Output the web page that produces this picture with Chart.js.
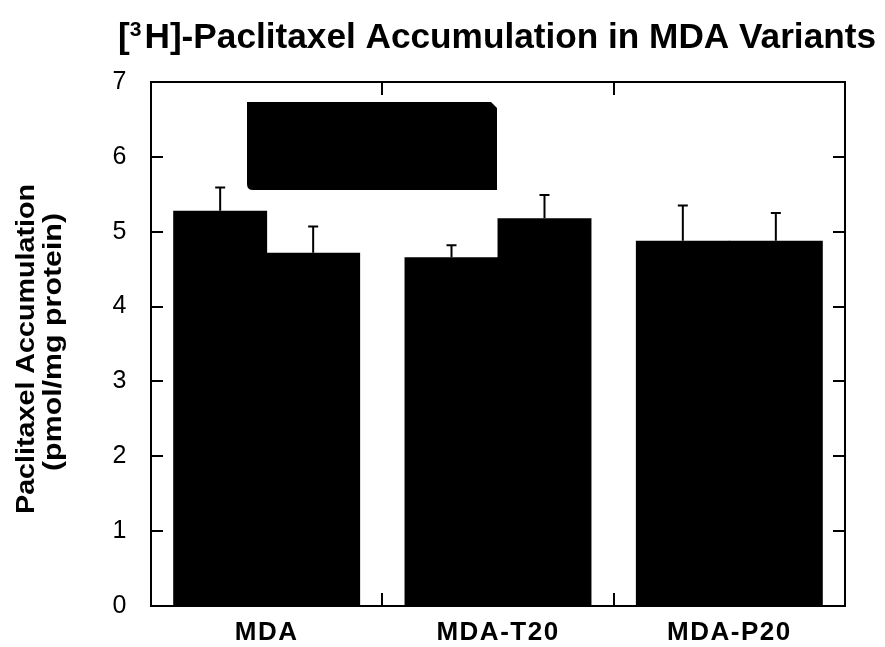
<!DOCTYPE html>
<html>
<head>
<meta charset="utf-8">
<script src="https://cdn.jsdelivr.net/npm/chart.js@4.4.1/dist/chart.umd.min.js"></script>
<style>
  html, body { margin: 0; padding: 0; background: #fff; }
  #wrap { width: 885px; height: 647px; position: relative; }
</style>
</head>
<body>
<div id="wrap"><canvas id="c"></canvas></div>
<script>
// ---- data ----
const categories = ['MDA', 'MDA-T20', 'MDA-P20'];
const seriesA = [5.28, 4.66, 4.88];
const seriesAErr = [0.31, 0.16, 0.47];
const seriesB = [4.72, 5.18, 4.88];
const seriesBErr = [0.35, 0.31, 0.37];
const yTicks = [0, 1, 2, 3, 4, 5, 6, 7];
const titleMain = 'H]-Paclitaxel Accumulation in MDA Variants';
const titleSup = '3';
const yTitle = ['Paclitaxel Accumulation', '(pmol/mg protein)'];

const FONT = "'Liberation Sans', Arial, Helvetica, sans-serif";

const errorBarPlugin = {
  id: 'errorBars',
  afterDatasetsDraw(chart) {
    const ctx = chart.ctx;
    const y = chart.scales.y;
    const errs = [seriesAErr, seriesBErr];
    ctx.save();
    ctx.strokeStyle = '#000';
    ctx.lineWidth = 2;
    chart.data.datasets.forEach((ds, i) => {
      const meta = chart.getDatasetMeta(i);
      meta.data.forEach((el, j) => {
        const top = y.getPixelForValue(ds.data[j] + errs[i][j]);
        ctx.beginPath();
        ctx.moveTo(el.x, el.y);
        ctx.lineTo(el.x, top);
        ctx.moveTo(el.x - 5, top);
        ctx.lineTo(el.x + 5, top);
        ctx.stroke();
      });
    });
    ctx.restore();
  }
};

const framePlugin = {
  id: 'frame',
  afterDraw(chart) {
    const ctx = chart.ctx;
    const a = chart.chartArea;
    const y = chart.scales.y;
    const x = chart.scales.x;
    ctx.save();
    ctx.letterSpacing = '0px';
    ctx.strokeStyle = '#000';
    ctx.lineWidth = 2;
    ctx.strokeRect(a.left, a.top, a.right - a.left, a.bottom - a.top);
    // inner y ticks on left and right
    ctx.beginPath();
    yTicks.forEach(v => {
      const py = Math.round(y.getPixelForValue(v));
      ctx.moveTo(a.left, py); ctx.lineTo(a.left + 12, py);
      ctx.moveTo(a.right, py); ctx.lineTo(a.right - 12, py);
    });
    // x ticks at category boundaries
    for (let i = 1; i < categories.length; i++) {
      const px = Math.round((x.getPixelForValue(i - 1) + x.getPixelForValue(i)) / 2);
      ctx.moveTo(px, a.bottom); ctx.lineTo(px, a.bottom - 13);
      ctx.moveTo(px, a.top); ctx.lineTo(px, a.top + 13);
    }
    ctx.stroke();

    // legend box (black, content unreadable in the original)
    const lx = a.left + 96, ly = a.top + 20, lw = 250, lh = 88, c = 6;
    ctx.fillStyle = '#000';
    ctx.beginPath();
    ctx.moveTo(lx, ly);
    ctx.lineTo(lx + lw - c, ly);
    ctx.lineTo(lx + lw, ly + c);
    ctx.lineTo(lx + lw, ly + lh);
    ctx.lineTo(lx + c, ly + lh);
    ctx.quadraticCurveTo(lx, ly + lh, lx, ly + lh - c);
    ctx.closePath();
    ctx.fill();

    // title with superscript
    ctx.fillStyle = '#000';
    ctx.textBaseline = 'alphabetic';
    ctx.textAlign = 'left';
    const tLeft = 118, tRight = 876, tBase = 48;
    const fMain = 'bold 35px ' + FONT;
    const fSup = 'bold 21px ' + FONT;
    ctx.font = fMain;
    const wBr = ctx.measureText('[').width;
    const wMain = ctx.measureText(titleMain).width;
    ctx.font = fSup;
    const wSup = ctx.measureText(titleSup).width + 3;
    const sx = (tRight - tLeft) / (wBr + wSup + wMain);
    ctx.save();
    ctx.translate(tLeft, tBase);
    ctx.scale(sx, 1);
    ctx.font = fMain;
    ctx.fillText('[', 0, 0);
    ctx.font = fSup;
    ctx.fillText(titleSup, wBr, -12);
    ctx.font = fMain;
    ctx.fillText(titleMain, wBr + wSup, 0);
    ctx.restore();

    // y axis title (rotated, two lines)
    const lines = [
      { text: yTitle[0], base: 34, cy: 349, len: 330 },
      { text: yTitle[1], base: 61, cy: 342, len: 258 }
    ];
    ctx.font = 'bold 26px ' + FONT;
    ctx.textAlign = 'center';
    lines.forEach(l => {
      const w = ctx.measureText(l.text).width;
      ctx.save();
      ctx.translate(l.base, l.cy);
      ctx.rotate(-Math.PI / 2);
      ctx.scale(l.len / w, 1);
      ctx.fillText(l.text, 0, 0);
      ctx.restore();
    });
    ctx.restore();
  }
};

const spacingPlugin = {
  id: 'spacing',
  beforeDraw(chart) { chart.ctx.letterSpacing = '1.5px'; },
  afterDraw(chart) { chart.ctx.letterSpacing = '0px'; }
};

new Chart(document.getElementById('c'), {
  type: 'bar',
  data: {
    labels: categories,
    datasets: [
      { label: 'Series 1', data: seriesA, backgroundColor: '#000', borderWidth: 0 },
      { label: 'Series 2', data: seriesB, backgroundColor: '#000', borderWidth: 0 }
    ]
  },
  options: {
    responsive: true,
    maintainAspectRatio: false,
    animation: false,
    devicePixelRatio: 1,
    categoryPercentage: 0.804,
    barPercentage: 1.01,
    layout: { padding: { top: 82, right: 40, left: 0, bottom: 0 } },
    plugins: {
      legend: { display: false },
      tooltip: { enabled: false },
      title: { display: false }
    },
    scales: {
      x: {
        grid: { display: false, drawTicks: false },
        border: { display: false },
        ticks: {
          color: '#000',
          padding: 11,
          font: { family: FONT, size: 26, weight: 'bold' }
        },
        afterFit(scale) { scale.height = 41; }
      },
      y: {
        min: 0,
        max: 7,
        grid: { display: false, drawTicks: false },
        border: { display: false },
        ticks: {
          stepSize: 1,
          color: '#000',
          padding: 23,
          font: { family: FONT, size: 25 }
        },
        afterFit(scale) { scale.width = 151; }
      }
    }
  },
  plugins: [spacingPlugin, errorBarPlugin, framePlugin]
});
</script>
</body>
</html>
